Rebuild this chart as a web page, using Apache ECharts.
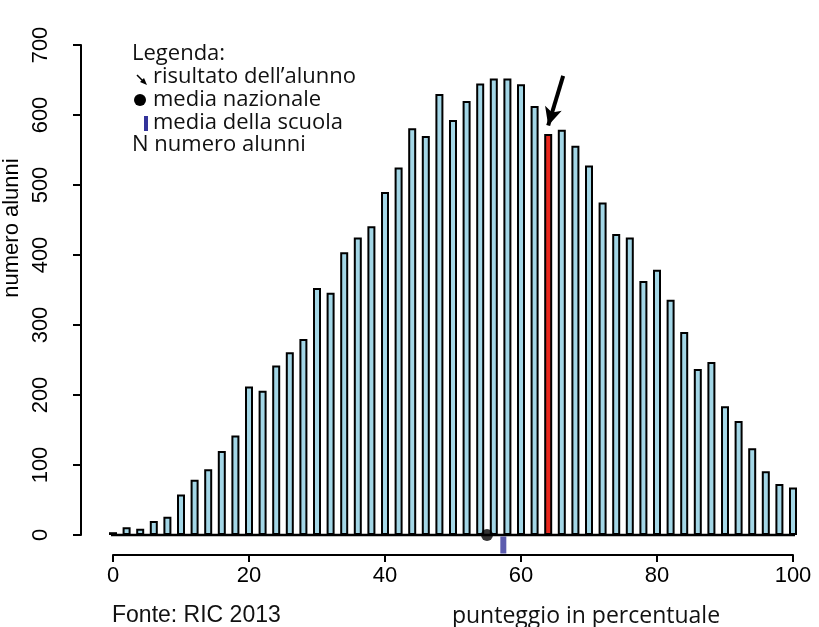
<!DOCTYPE html>
<html>
<head>
<meta charset="utf-8">
<script src="https://cdn.jsdelivr.net/npm/echarts@6/dist/echarts.min.js"></script>
<style>
  html, body { margin: 0; padding: 0; background: #fff; }
  #chart { width: 819px; height: 627px; }
</style>
</head>
<body>
<div id="chart"></div>
<script>
// punteggi (classi) e numero alunni per classe
var scores = [0, 2, 4, 6, 8, 10, 12, 14, 16, 18, 20, 22, 24, 26, 28, 30, 32, 34, 36, 38, 40,
  42, 44, 46, 48, 50, 52, 54, 56, 58, 60, 62, 64, 66, 68, 70, 72, 74, 76, 78, 80,
  82, 84, 86, 88, 90, 92, 94, 96, 98, 100];
var counts = [4, 11, 9, 20, 26, 58, 79, 94, 120, 142, 212, 206, 242, 261, 280, 353, 346, 404, 425, 441, 490,
  525, 581, 570, 630, 593, 620, 645, 652, 652, 644, 613, 573, 579, 556, 528, 475, 430, 425, 363, 379,
  336, 290, 237, 247, 184, 163, 124, 91, 73, 68];
var xTicks = [0, 20, 40, 60, 80, 100];
var yTicks = [0, 100, 200, 300, 400, 500, 600, 700];

var studentScore = 64;     // risultato dell'alunno
var nationalMean = 55;     // media nazionale
var schoolMean = 57.4;     // media della scuola

var legendLines = ['risultato dell\u2019alunno', 'media nazionale', 'media della scuola', 'numero alunni'];

var axisFont = '"Liberation Sans", Arial, sans-serif';
var legFont = '"Open Sans", "Noto Sans", sans-serif';

var chart = echarts.init(document.getElementById('chart'));

var barData = scores.map(function (s, i) {
  var item = { value: [s, counts[i]] };
  if (s === studentScore) {
    item.itemStyle = { color: '#e8281e' };
  }
  return item;
});
var studentCount = counts[scores.indexOf(studentScore)];

var option = {
  animation: false,
  grid: { left: 113, right: 26, top: 45, bottom: 92 },
  xAxis: {
    type: 'value',
    min: xTicks[0],
    max: xTicks[xTicks.length - 1],
    interval: 20,
    offset: 20,
    splitLine: { show: false },
    axisLine: { onZero: false, lineStyle: { color: '#000', width: 2 } },
    axisTick: { length: 7, lineStyle: { color: '#000', width: 2 } },
    axisLabel: { color: '#000', fontSize: 22, fontFamily: axisFont, margin: 10 }
  },
  yAxis: {
    type: 'value',
    min: yTicks[0],
    max: yTicks[yTicks.length - 1],
    interval: 100,
    offset: 32,
    splitLine: { show: false },
    axisLine: { show: true, onZero: false, lineStyle: { color: '#000', width: 2 } },
    axisTick: { show: true, length: 8, lineStyle: { color: '#000', width: 2 } },
    axisLabel: { color: '#000', fontSize: 22, fontFamily: axisFont, rotate: 90, margin: 29 }
  },
  series: [
    {
      name: 'alunni',
      type: 'bar',
      clip: false,
      barWidth: 8,
      itemStyle: { color: '#a3d6e6', borderColor: '#000', borderWidth: 2 },
      data: barData,
      z: 2
    },
    {
      // linea dello zero sotto le barre
      type: 'line',
      clip: false,
      symbol: 'none',
      lineStyle: { color: '#000', width: 2.5 },
      data: [[scores[0] - 0.8, 0], [scores[scores.length - 1] + 0.8, 0]],
      z: 3,
      markLine: {
        silent: true,
        symbol: ['none', 'arrow'],
        symbolSize: [13, 18],
        label: { show: false },
        lineStyle: { color: '#000', width: 4, type: 'solid' },
        data: [[
          { coord: [studentScore + 2.2, studentCount + 83] },
          { coord: [studentScore, studentCount + 12] }
        ]]
      }
    },
    {
      name: 'media nazionale',
      type: 'scatter',
      symbol: 'circle',
      symbolSize: 12,
      itemStyle: { color: '#000' },
      data: [[nationalMean, 0]],
      z: 5
    },
    {
      name: 'media della scuola',
      type: 'scatter',
      symbol: 'rect',
      symbolSize: [6, 17],
      symbolOffset: [0, 10],
      itemStyle: { color: '#33339a' },
      data: [[schoolMean, 0]],
      z: 5
    }
  ],
  graphic: [
    { type: 'text', x: 132, y: 54, style: { text: 'Legenda:', font: '22px ' + legFont, fill: '#111', verticalAlign: 'middle' } },
    // piccola freccia della legenda
    { type: 'line', shape: { x1: 137, y1: 75, x2: 144, y2: 82 }, style: { stroke: '#000', lineWidth: 1.5 } },
    { type: 'polygon', shape: { points: [[147, 85], [140, 82], [144, 78]] }, style: { fill: '#000' } },
    { type: 'text', x: 153, y: 77, style: { text: legendLines[0], font: '22px ' + legFont, fill: '#111', verticalAlign: 'middle' } },
    { type: 'circle', shape: { cx: 140, cy: 100, r: 6 }, style: { fill: '#000' } },
    { type: 'text', x: 153, y: 100, style: { text: legendLines[1], font: '22px ' + legFont, fill: '#111', verticalAlign: 'middle' } },
    { type: 'rect', shape: { x: 144, y: 116, width: 4, height: 15 }, style: { fill: '#33339a' } },
    { type: 'text', x: 153, y: 123, style: { text: legendLines[2], font: '22px ' + legFont, fill: '#111', verticalAlign: 'middle' } },
    { type: 'text', x: 132, y: 145, style: { text: 'N ' + legendLines[3], font: '22px ' + legFont, fill: '#111', verticalAlign: 'middle' } },
    // titoli assi e fonte
    {
      type: 'text', x: 12, y: 228, rotation: Math.PI / 2,
      style: { text: 'numero alunni', font: '22px ' + axisFont, fill: '#000', align: 'center', verticalAlign: 'middle' }
    },
    { type: 'text', x: 586, y: 616, style: { text: 'punteggio in percentuale', font: '23px ' + legFont, fill: '#111', align: 'center', verticalAlign: 'middle' } },
    { type: 'text', x: 112, y: 616, style: { text: 'Fonte: RIC 2013', font: '23px ' + axisFont, fill: '#111', align: 'left', verticalAlign: 'middle' } }
  ]
};

chart.setOption(option);
</script>
</body>
</html>
